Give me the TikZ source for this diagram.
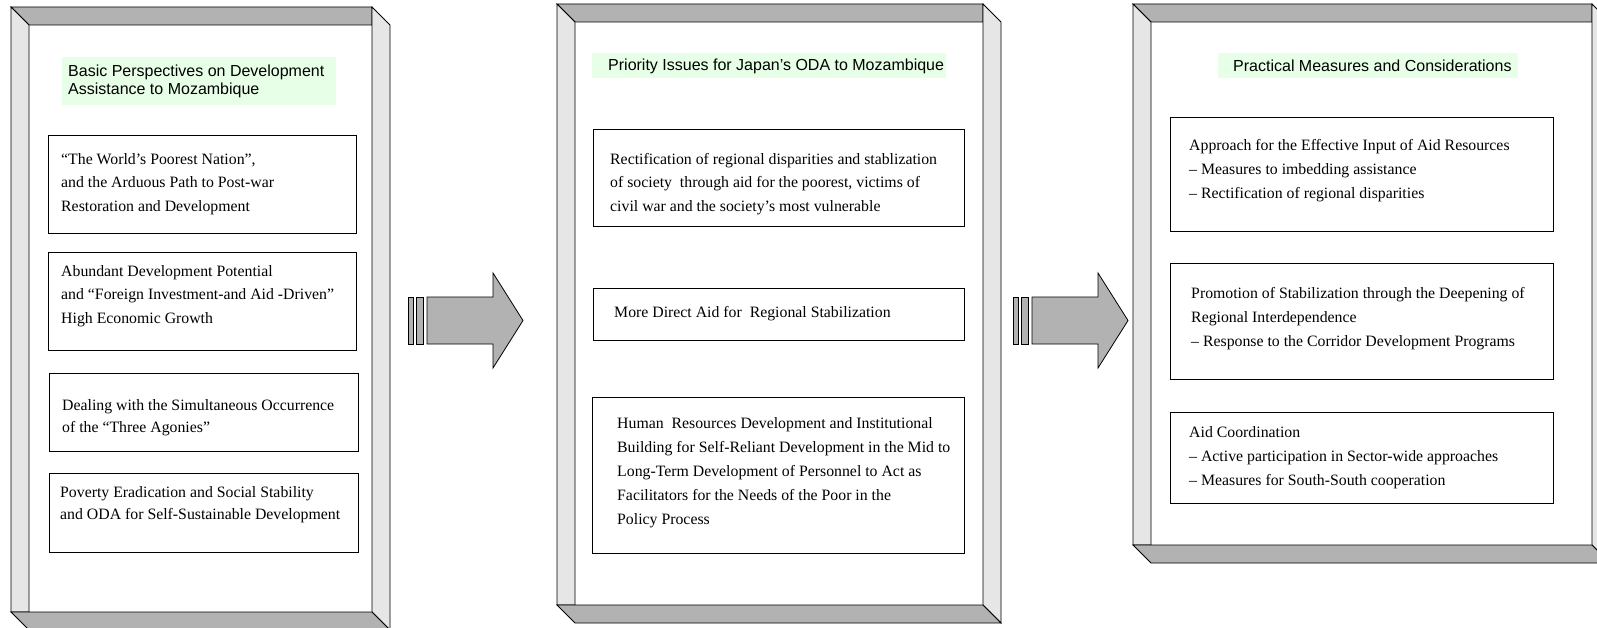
\documentclass[tikz,border=0pt]{standalone}
\usepackage{fontspec}
\setmainfont{Liberation Serif}
\newfontfamily\hdfont{Liberation Sans}
\definecolor{dk}{HTML}{B2B2B2}
\definecolor{lt}{HTML}{E6E6E6}
\definecolor{hg}{HTML}{E6FFE6}
\tikzset{
  face/.style={draw=black, line width=0.8pt, line join=miter},
  boxst/.style={draw=black, line width=1pt, fill=white, inner sep=0pt, anchor=north west},
  txt/.style={font=\fontsize{15.8}{23.5}\selectfont, align=left, inner sep=0pt, anchor=west},
  txtb/.style={font=\fontsize{15.8}{24}\selectfont, align=left, inner sep=0pt, anchor=west},
  txts/.style={font=\fontsize{15.8}{22}\selectfont, align=left, inner sep=0pt, anchor=west},
  hdr/.style={fill=hg, inner sep=0pt, anchor=north west},
  hdtxt/.style={font=\hdfont\fontsize{16}{17.8}\selectfont, align=left, inner sep=0pt, anchor=west},
  arrbody/.style={draw=black, fill=dk, line width=0.8pt, line join=miter}
}
\newcommand\mypanel[4]{%
  \fill[white] (#1+18,#2+18) rectangle (#3,#4);
  \filldraw[face, fill=dk] (#1,#2) -- (#3,#2) -- (#3,#2+18) -- (#1+18,#2+18) -- cycle;
  \filldraw[face, fill=lt] (#1,#2) -- (#1+18,#2+18) -- (#1+18,#4) -- (#1,#4) -- cycle;
  \filldraw[face, fill=lt] (#3,#2) -- (#3+18,#2+18) -- (#3+18,#4+18) -- (#3,#4) -- cycle;
  \filldraw[face, fill=dk] (#1,#4) -- (#3,#4) -- (#3+18,#4+18) -- (#1+18,#4+18) -- cycle;
}
\newcommand\myarrow[1]{%
  \filldraw[arrbody] (#1,297) rectangle (#1+5,344);
  \filldraw[arrbody] (#1+8,297) rectangle (#1+15,344);
  \filldraw[arrbody] (#1+19,297) -- (#1+85,297) -- (#1+85,273) -- (#1+115,320.5) -- (#1+85,368) -- (#1+85,344) -- (#1+19,344) -- cycle;
}
\begin{document}
\begin{tikzpicture}[x=1pt,y=-1pt]
\clip (0,0) rectangle (1597,628);
\fill[white] (0,0) rectangle (1597,628);

% panels
\mypanel{11}{7}{372}{612}
\mypanel{557}{4}{983}{605}
\mypanel{1133}{4}{1592}{545}

% arrows
\myarrow{408}
\myarrow{1013}

% panel 1
\node[hdr, minimum width=274, minimum height=48] (h1) at (62,57) {};
\node[hdtxt] (h1t) at (68,81) {Basic Perspectives on Development\\Assistance to Mozambique};

\node[boxst, minimum width=308, minimum height=98] (a1) at (48,135) {};
\node[txt] (a1t) at (61,184) {“The World’s Poorest Nation”,\\and the Arduous Path to Post-war\\Restoration and Development};

\node[boxst, minimum width=308, minimum height=98] (a2) at (48,252) {};
\node[txt] (a2t) at (61,296) {Abundant Development Potential\\and “Foreign Investment-and Aid -Driven”\\High Economic Growth};

\node[boxst, minimum width=309, minimum height=78] (a3) at (49,373) {};
\node[txts] (a3t) at (62,418) {Dealing with the Simultaneous Occurrence\\of the “Three Agonies”};

\node[boxst, minimum width=309, minimum height=79] (a4) at (49,473) {};
\node[txts] (a4t) at (60,505) {Poverty Eradication and Social Stability\\and ODA for Self-Sustainable Development};

% panel 2
\node[hdr, minimum width=354, minimum height=25] (h2) at (592,53) {};
\node[hdtxt] (h2t) at (608,66) {Priority Issues for Japan’s ODA to Mozambique};

\node[boxst, minimum width=371, minimum height=97] (b1) at (593,129) {};
\node[txt] (b1t) at (610,184) {Rectification of regional disparities and stablization\\of society\ \ through aid for the poorest, victims of\\civil war and the society’s most vulnerable};

\node[boxst, minimum width=371, minimum height=52] (b2) at (593,288) {};
\node[txt] (b2t) at (614,314) {More Direct Aid for\ \ Regional Stabilization};

\node[boxst, minimum width=372, minimum height=156] (b3) at (592,397) {};
\node[txtb] (b3t) at (617,473) {Human\ \ Resources Development and Institutional\\Building for Self-Reliant Development in the Mid to\\Long-Term Development of Personnel to Act as\\Facilitators for the Needs of the Poor in the\\Policy Process};

% panel 3
\node[hdr, minimum width=300, minimum height=25] (h3) at (1218,53) {};
\node[hdtxt] (h3t) at (1233,66) {Practical Measures and Considerations};

\node[boxst, minimum width=383, minimum height=114] (c1) at (1170,117) {};
\node[txtb] (c1t) at (1189,171) {Approach for the Effective Input of Aid Resources\\– Measures to imbedding assistance\\– Rectification of regional disparities};

\node[boxst, minimum width=383, minimum height=116] (c2) at (1170,263) {};
\node[txtb] (c2t) at (1191,319) {Promotion of Stabilization through the Deepening of\\Regional Interdependence\\– Response to the Corridor Development Programs};

\node[boxst, minimum width=383, minimum height=91] (c3) at (1170,412) {};
\node[txtb] (c3t) at (1189,458) {Aid Coordination\\– Active participation in Sector-wide approaches\\– Measures for South-South cooperation};
\end{tikzpicture}
\end{document}
